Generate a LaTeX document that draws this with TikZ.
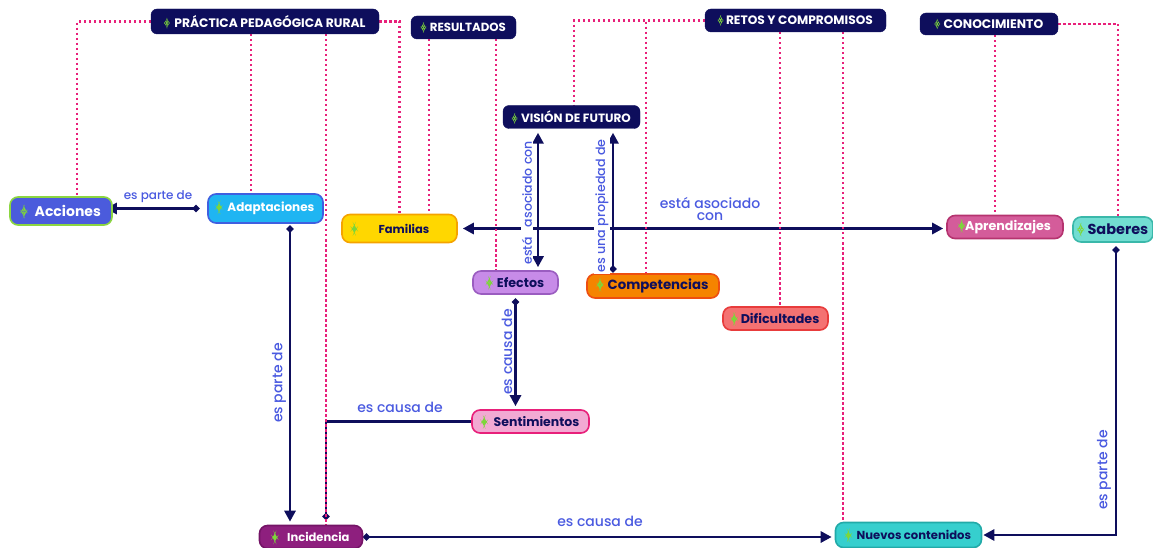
\documentclass[tikz,border=0pt]{standalone}
\usepackage{fontspec}
\setmainfont{Poppins}
\newfontfamily\pmed{Poppins Medium}
\usetikzlibrary{arrows.meta,calc}
\definecolor{navy}{HTML}{0E0E5C}
\definecolor{dpink}{HTML}{E8207A}
\definecolor{lblue}{HTML}{4A5AE0}
\definecolor{bgreen}{HTML}{7DD63A}
\definecolor{accfill}{HTML}{4B5BDC}\definecolor{accdraw}{HTML}{8CD640}
\definecolor{adfill}{HTML}{1FB5F2}\definecolor{addraw}{HTML}{3F5FE0}
\definecolor{famfill}{HTML}{FFD700}\definecolor{famdraw}{HTML}{F5A300}
\definecolor{efffill}{HTML}{C78BE8}\definecolor{effdraw}{HTML}{9A5CC0}
\definecolor{compfill}{HTML}{F58400}\definecolor{compdraw}{HTML}{EE4E10}
\definecolor{diffill}{HTML}{F47272}\definecolor{difdraw}{HTML}{E83C3C}
\definecolor{aprfill}{HTML}{D45C9A}\definecolor{aprdraw}{HTML}{B5336F}
\definecolor{sabfill}{HTML}{72DDD2}\definecolor{sabdraw}{HTML}{3AB8AA}
\definecolor{sentfill}{HTML}{F2A9D3}\definecolor{sentdraw}{HTML}{E8207A}
\definecolor{incfill}{HTML}{8E1F7E}\definecolor{incdraw}{HTML}{741466}
\definecolor{nuefill}{HTML}{36CFCE}\definecolor{nuedraw}{HTML}{22AAA8}
\newcommand\fsz[1]{\fontsize{#1}{#1}\selectfont}
\newcommand\bul{\tikz[baseline=0pt]\fill[bgreen] (0pt,0pt)--(0.2em,0.36em)--(0pt,0.72em)--(-0.2em,0.36em)--cycle;}
\pgfdeclarelayer{bg}
\pgfsetlayers{bg,main}
\tikzset{
  concept/.style={rounded corners=8pt, line width=1.6pt, inner sep=2pt, text=navy},
  header/.style={rounded corners=6pt, fill=navy, draw=navy, text=white, inner sep=2pt},
  lnk/.style={text=lblue, inner sep=1pt, font=\pmed\fsz{14}},
  dotl/.style={dpink, line width=2.3pt, dash pattern=on 2.3pt off 2.7pt},
  conn/.style={navy, line width=2.8pt},
  dotarr/.style={{Circle[length=6.5pt]}-{Triangle[length=11pt,width=11pt]}},
  twoarr/.style={{Triangle[length=11pt,width=11pt]}-{Triangle[length=11pt,width=11pt]}}
}
\begin{document}
\begin{tikzpicture}[x=1pt,y=-1pt]
\useasboundingbox (0,0) rectangle (1153,548);
% headers
\node[header, minimum width=228pt, minimum height=25pt, font=\bfseries\fsz{12.3}] (ppr) at (265,21.5) {\bul\hspace{5pt}PRÁCTICA PEDAGÓGICA RURAL};
\node[header, minimum width=105pt, minimum height=23pt, font=\bfseries\fsz{11.8}] (res) at (463.5,27.5) {\bul\hspace{4pt}RESULTADOS};
\node[header, minimum width=181pt, minimum height=23pt, font=\bfseries\fsz{12.2}] (retos) at (795.5,20.5) {\bul\hspace{3pt}RETOS Y COMPROMISOS};
\node[header, minimum width=138pt, minimum height=22pt, font=\bfseries\fsz{12.4}] (cono) at (989,24) {\bul\hspace{4pt}CONOCIMIENTO};
\node[header, minimum width=137pt, minimum height=23pt, font=\bfseries\fsz{12}] (vis) at (571.5,117) {\bul\hspace{4pt}VISIÓN DE FUTURO};
% concepts
\node[concept, fill=accfill, draw=accdraw, text=white, minimum width=102pt, minimum height=28pt, font=\bfseries\fsz{14}] (acc) at (61,211) {\bul\hspace{8pt}Acciones};
\node[concept, fill=adfill, draw=addraw, text=white, minimum width=115pt, minimum height=29pt, font=\bfseries\fsz{12}] (adapt) at (265.5,208.5) {\bul\hspace{6pt}Adaptaciones};
\node[concept, fill=famfill, draw=famdraw, minimum width=115pt, minimum height=28pt, font=\bfseries\fsz{11.5}] (fam) at (399.5,228.5) {\makebox[95pt][l]{\bul\hspace{22pt}Familias}};
\node[concept, fill=efffill, draw=effdraw, minimum width=85pt, minimum height=23pt, font=\bfseries\fsz{12.7}] (eff) at (515.5,282.5) {\bul\hspace{5pt}Efectos};
\node[concept, fill=compfill, draw=compdraw, minimum width=132pt, minimum height=24pt, font=\bfseries\fsz{13.3}] (comp) at (653,286) {\bul\hspace{5pt}Competencias};
\node[concept, fill=diffill, draw=difdraw, minimum width=105pt, minimum height=23pt, font=\bfseries\fsz{12.7}] (dif) at (775.5,318.5) {\bul\hspace{4pt}Dificultades};
\node[concept, fill=aprfill, draw=aprdraw, text=white, minimum width=116pt, minimum height=23pt, font=\bfseries\fsz{12.7}] (apr) at (1005,227) {\bul\hspace{1pt}Aprendizajes};
\node[concept, fill=sabfill, draw=sabdraw, minimum width=80pt, minimum height=25pt, font=\bfseries\fsz{14.5}] (sab) at (1113,229.5) {\bul\hspace{4pt}Saberes};
\node[concept, fill=sentfill, draw=sentdraw, minimum width=117pt, minimum height=23pt, font=\bfseries\fsz{12.5}] (sent) at (530.5,421.5) {\bul\hspace{7pt}Sentimientos};
\node[concept, fill=incfill, draw=incdraw, text=white, minimum width=103pt, minimum height=23pt, font=\bfseries\fsz{11.5}] (inc) at (311,537) {\bul\hspace{10pt}Incidencia};
\node[concept, fill=nuefill, draw=nuedraw, minimum width=146pt, minimum height=25pt, font=\bfseries\fsz{11.6}] (nue) at (908.5,535) {\bul\hspace{6pt}Nuevos contenidos};
% connectors
\begin{pgfonlayer}{bg}
\draw[conn, dotarr, shorten >=1pt] ([xshift=-8pt]adapt.west) -- ([xshift=-8pt]adapt.west -| acc.east);
\draw[conn, dotarr, shorten <=2pt, shorten >=3pt] ([xshift=24.5pt]adapt.south) -- ([xshift=24.5pt]adapt.south |- inc.north);
\draw[conn, -{Circle[length=6.5pt]}, shorten >=5pt] (sent.west) -| ([xshift=15pt]inc.north);
\draw[conn, dotarr, shorten >=3pt] (inc.east) -- (inc.east -| nue.west);
\draw[conn, dotarr, shorten <=4pt, shorten >=1pt] ([xshift=3pt]sab.south) |- (nue.east);
\draw[conn, dotarr, shorten <=4pt, shorten >=3pt] (eff.south) -- (eff.south |- sent.north);
\draw[conn, twoarr, shorten <=4pt, shorten >=3pt] ([xshift=-33.5pt]vis.south) -- ([xshift=-33.5pt]vis.south |- eff.north);
\draw[conn, dotarr, shorten <=1pt, shorten >=4pt] ([xshift=-40pt]comp.north) -- ([xshift=-40pt]comp.north |- vis.south);
\draw[conn, twoarr, shorten <=5pt, shorten >=3pt] (fam.east) -- (fam.east -| apr.west);
% dotted
\draw[dotl] (ppr.west) -| ([xshift=16pt]acc.north);
\draw[dotl] ([xshift=-14pt]ppr.south) -- ([xshift=-14pt]ppr.south |- adapt.north);
\draw[dotl] ([xshift=61pt]ppr.south) -- ([xshift=61pt]ppr.south |- inc.north);
\draw[dotl] (ppr.east) -| (fam.north);
\draw[dotl] ([xshift=-34.5pt]res.south) -- ([xshift=-34.5pt]res.south |- fam.north);
\draw[dotl] ([xshift=32.5pt]res.south) -- ([xshift=32.5pt]res.south |- eff.north);
\draw[dotl] (retos.west) -| ([xshift=2.5pt]vis.north);
\draw[dotl] (retos.west) -| ([xshift=-7pt]comp.north);
\draw[dotl] ([xshift=-15.5pt]retos.south) -- ([xshift=-15.5pt]retos.south |- dif.north);
\draw[dotl] ([xshift=47.5pt]retos.south) -- ([xshift=47.5pt]retos.south |- nue.north);
\draw[dotl] ([xshift=6pt]cono.south) -- ([xshift=6pt]cono.south |- apr.north);
\draw[dotl] (cono.east) -| ([xshift=5pt]sab.north);
\end{pgfonlayer}
% link labels
\node[lnk, font=\pmed\fsz{12}] (l1) at (158,197) {es parte de};
\node[lnk, rotate=90] (l2) at (279,383) {es parte de};
\node[lnk] (l3) at (400,407) {es causa de};
\node[lnk] (l4) at (600,521) {es causa de};
\node[lnk, rotate=90] (l5) at (507,352) {es causa de};
\node[lnk, rotate=90, fill=white, font=\pmed\fsz{12.5}] (l6) at (527,203) {está\hspace{10pt}asociado con};
\node[lnk, rotate=90, fill=white, font=\pmed\fsz{12.7}] (l7) at (602,206) {es una propiedad de};
\node[lnk, align=center, font=\pmed\fontsize{14}{12}\selectfont] (l8) at (710,209) {está asociado\\con};
\node[lnk, rotate=90] (l9) at (1104,470) {es parte de};
\end{tikzpicture}
\end{document}
